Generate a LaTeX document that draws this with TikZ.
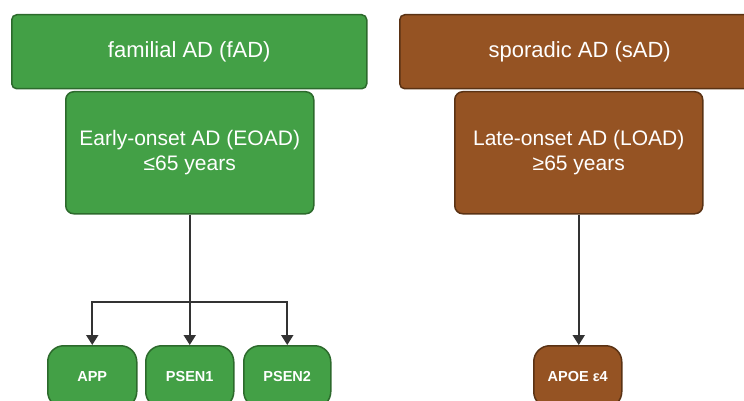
\documentclass[tikz,border=0pt]{standalone}
\usepackage{fontspec}
\setmainfont{Liberation Sans}
\usetikzlibrary{arrows.meta}
\definecolor{gfill}{HTML}{43A046}
\definecolor{gline}{HTML}{2C6A2C}
\definecolor{bfill}{HTML}{955323}
\definecolor{bline}{HTML}{5A3214}
\definecolor{connc}{HTML}{333333}
\begin{document}
\begin{tikzpicture}[x=1pt,y=-1pt,
  box/.style={draw, line width=1.5pt, text=white, align=center, inner sep=0pt, anchor=north west},
  gbox/.style={box, fill=gfill, draw=gline},
  bbox/.style={box, fill=bfill, draw=bline},
  toptxt/.style={font=\fontsize{22}{25}\selectfont},
  bigtxt/.style={font=\fontsize{21}{25}\selectfont},
  smalltxt/.style={font=\fontsize{14.5}{16}\selectfont\bfseries},
  connline/.style={draw=connc, line width=2pt},
  arr/.style={connline, -{Triangle[length=10pt,width=12pt]}}
]
\useasboundingbox (0,0) rectangle (744,401);
\clip (0,0) rectangle (744,401);
% top boxes
\node[gbox, toptxt, rounded corners=5pt, minimum width=355pt, minimum height=74pt] (fad) at (11,14) {familial AD (fAD)};
\node[bbox, toptxt, rounded corners=5pt, minimum width=360pt, minimum height=74pt] (sad) at (399,14) {sporadic AD (sAD)};
% onset boxes
\node[gbox, bigtxt, rounded corners=8pt, minimum width=248pt, minimum height=122pt] (eoad) at (65,91) {Early-onset AD (EOAD)\\≤65 years};
\node[bbox, bigtxt, rounded corners=8pt, minimum width=248pt, minimum height=122pt] (load) at (454,91) {Late-onset AD (LOAD)\\≥65 years};
% gene boxes
\node[gbox, smalltxt, rounded corners=16pt, minimum width=89pt, minimum height=62pt] (app) at (47,345) {APP};
\node[gbox, smalltxt, rounded corners=16pt, minimum width=88pt, minimum height=62pt] (psen1) at (145,345) {PSEN1};
\node[gbox, smalltxt, rounded corners=16pt, minimum width=87pt, minimum height=62pt] (psen2) at (243,345) {PSEN2};
\node[bbox, smalltxt, rounded corners=16pt, minimum width=88pt, minimum height=62pt] (apoe) at (533,345) {APOE ε4};
% connectors
\coordinate (split) at (eoad.south |- 0,302);
\draw[arr] (eoad.south) -- (eoad.south |- psen1.north);
\draw[arr] (split) -| (app.north);
\draw[arr] (split) -| (psen2.north);
\draw[arr] (load.south) -- (load.south |- apoe.north);
\end{tikzpicture}
\end{document}
